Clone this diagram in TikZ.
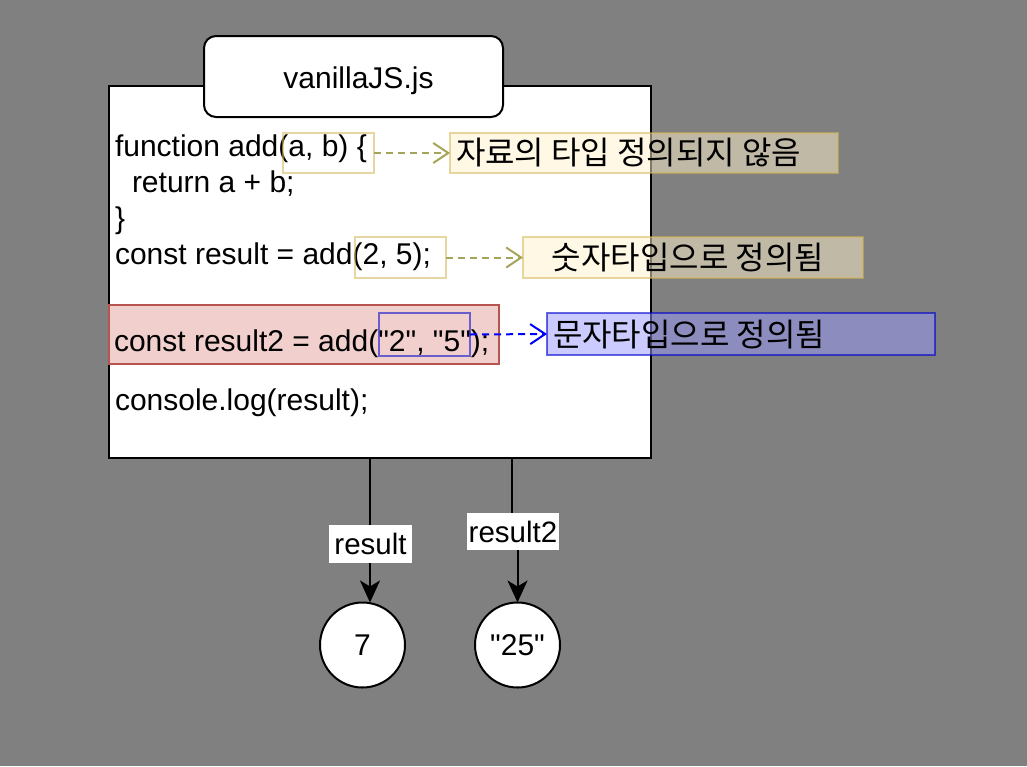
\documentclass[tikz,border=0pt]{standalone}
\usepackage{fontspec}
\setmainfont{Liberation Sans}
\newfontfamily\arialfont{Liberation Sans}
\newfontfamily\krfont{Noto Sans CJK KR}
\usetikzlibrary{arrows.meta}
\definecolor{bggray}{HTML}{808080}
\definecolor{yfill}{HTML}{FFF2CC}
\definecolor{ydraw}{HTML}{D6B656}
\definecolor{rfill}{HTML}{F0CFCC}
\definecolor{rdraw}{HTML}{B85450}
\definecolor{bfill}{HTML}{9999FF}
\definecolor{bdraw}{HTML}{0000CC}
\definecolor{olive}{HTML}{A5A55A}
\begin{document}
\begin{tikzpicture}[x=1pt,y=-1pt,
  every node/.style={inner sep=0pt, outer sep=0pt},
  codetxt/.style={font=\arialfont\fontsize{30}{36}\selectfont, anchor=base west},
  krtxt/.style={font=\krfont\fontsize{32}{38}\selectfont},
  blackbox/.style={draw=black, line width=2pt, fill=white},
  hlbox/.style={draw=ydraw, draw opacity=0.55, line width=2pt},
  annbox/.style={draw=ydraw, draw opacity=0.55, fill=yfill, fill opacity=0.5, line width=2pt},
  bluebox/.style={draw=bdraw, draw opacity=0.55, line width=2pt},
  bannbox/.style={draw=bdraw, draw opacity=0.6, fill=bfill, fill opacity=0.5, line width=2pt},
  oarrow/.style={draw=olive, line width=2pt, dash pattern=on 7pt off 5pt, -{Straight Barb[length=15pt,width=20pt]}},
  barrow/.style={draw=blue, line width=2pt, dash pattern=on 7pt off 5pt, -{Straight Barb[length=15pt,width=20pt]}},
  karrow/.style={draw=black, line width=2pt, -{Stealth[length=22pt,width=20pt,inset=6pt]}},
  elabel/.style={fill=white, font=\arialfont\fontsize{29.5}{35}\selectfont},
  valcircle/.style={circle, draw=black, line width=2pt, fill=white, minimum size=85pt, font=\arialfont\fontsize{30}{36}\selectfont}
]
\fill[bggray] (0,0) rectangle (1027,766);
\useasboundingbox (0,0) rectangle (1027,766);

% main code box
\node[blackbox, minimum width=542pt, minimum height=372pt] (main) at (380,272) {};
% title tab
\node[blackbox, rounded corners=12pt, minimum width=299pt, minimum height=81pt] (title) at (353.5,76.5) {};
\node[codetxt, anchor=base] (titletxt) at (358.5,88) {vanillaJS.js};

% red highlighted line
\node[draw=rdraw, line width=2pt, fill=rfill, minimum width=390pt, minimum height=59pt] (redline) at (304,334.5) {};

% code lines
\node[codetxt] (c1) at (115,156.5) {function add(a, b) \{};
\node[codetxt] (c2) at (132,192.5) {return a + b;};
\node[codetxt] (c3) at (115,228.5) {\}};
\node[codetxt] (c4) at (115,264.5) {const result = add(2, 5);};
\node[codetxt] (c5) at (114,351) {const result2 = add("2", "5");};
\node[codetxt] (c6) at (115,410) {console.log(result);};

% highlight boxes on code
\node[hlbox, minimum width=91pt, minimum height=40pt] (hl1) at (328.5,153) {};
\node[hlbox, minimum width=91pt, minimum height=41pt] (hl2) at (400.5,257.5) {};
\node[bluebox, minimum width=91pt, minimum height=43pt] (hl3) at (424.5,334.5) {};

% annotation boxes
\node[annbox, minimum width=388pt, minimum height=40pt] (ann1) at (644,153) {};
\node[krtxt, anchor=base west] (ann1txt) at (456,164) {자료의 타입 정의되지 않음};
\node[annbox, minimum width=340pt, minimum height=41pt] (ann2) at (693,257.5) {};
\node[krtxt, anchor=base] (ann2txt) at (688,269) {숫자타입으로 정의됨};
\node[bannbox, minimum width=388pt, minimum height=42pt] (ann3) at (741,334) {};
\node[krtxt, anchor=base west] (ann3txt) at (553,346) {문자타입으로 정의됨};

% dashed annotation arrows
\draw[oarrow] (hl1.east) -- (ann1.west);
\draw[oarrow] (hl2.east) -- (ann2.west);
\draw[barrow] (hl3.east) -- (ann3.west);

% result circles
\node[valcircle] (v7) at (362.5,645) {7};
\node[valcircle] (v25) at (517.5,645) {"25"};

% result edges
\coordinate (e1s) at (370,458);
\coordinate (e2s) at (512,458);
\coordinate (e2a) at (512,531);
\coordinate (e2b) at (517.5,531);
\draw[karrow] (e1s) -- (e1s |- v7.north);
\draw[karrow] (e2s) -- (e2a) -- (e2b) -- (v25.north);
\node[elabel, minimum width=83pt, minimum height=38pt] (l1) at (370.5,544) {result};
\node[elabel, minimum width=92pt, minimum height=37pt] (l2) at (513,531.5) {result2};
\end{tikzpicture}
\end{document}
